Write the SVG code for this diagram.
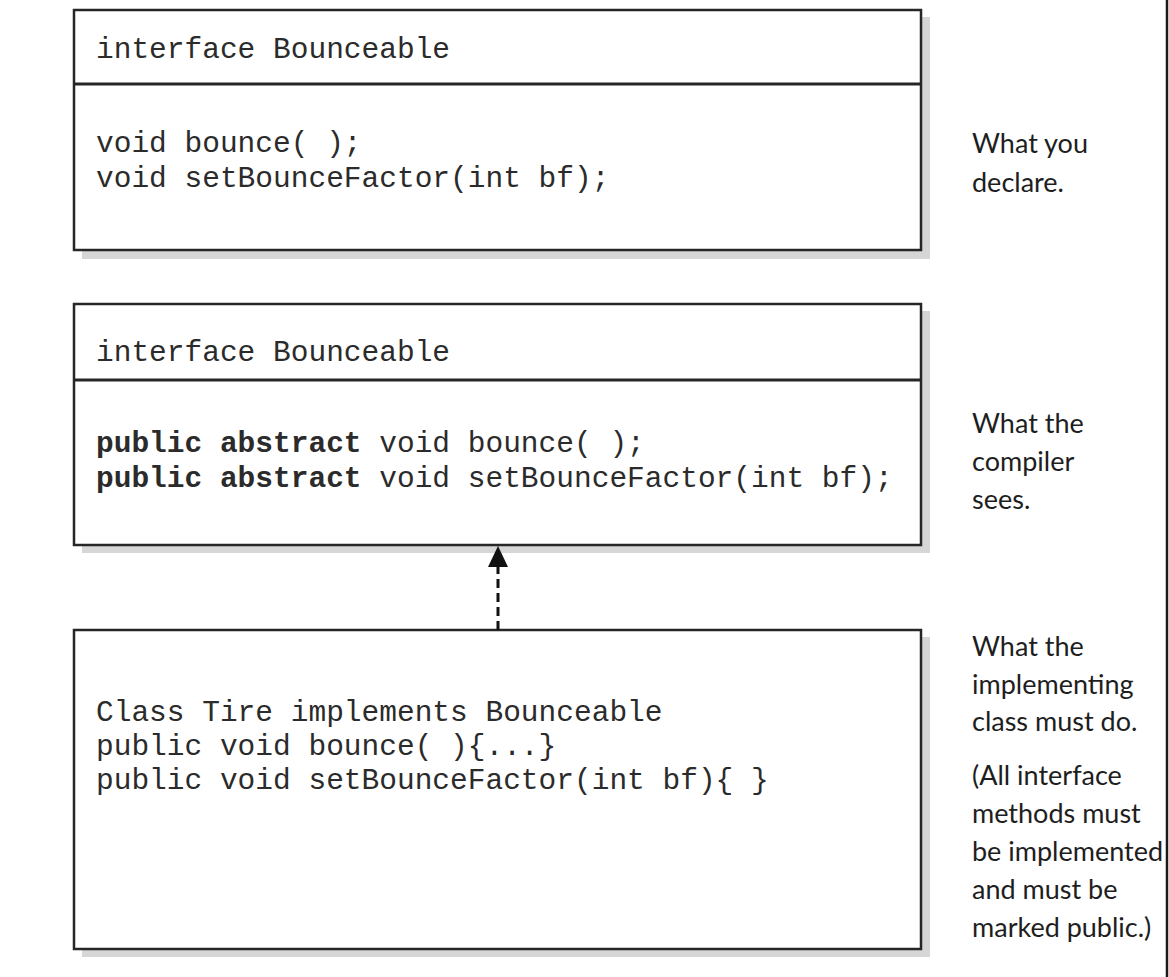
<svg xmlns="http://www.w3.org/2000/svg" width="1169" height="977" viewBox="0 0 1169 977">
<style>
.box{fill:#fff;stroke:#262626;stroke-width:2.5}
.shadow{fill:#d6d6d6}
.div{stroke:#262626;stroke-width:3}
.code{font-family:"Liberation Mono","DejaVu Sans Mono",monospace;font-size:29.5px;fill:#2b2b2b}
.kw{font-weight:bold}
.note{font-family:Lato,"Open Sans",sans-serif;font-size:27px;fill:#1e1e1e}
</style>
<rect width="1169" height="977" fill="#fff"/>
<line x1="1167" y1="0" x2="1167" y2="977" stroke="#1a1a1a" stroke-width="2.5"/>
<g id="declared">
<rect class="shadow" x="82" y="17" width="848" height="242"/>
<rect class="box" x="74" y="10" width="847" height="240"/>
<line class="div" x1="74" y1="84" x2="921" y2="84"/>
<text class="code" x="96" y="58">interface Bounceable</text>
<text class="code" x="96" y="152">void bounce( );</text>
<text class="code" x="96" y="187">void setBounceFactor(int bf);</text>
</g>
<g id="compiler">
<rect class="shadow" x="82" y="311" width="848" height="242"/>
<rect class="box" x="74" y="304" width="847" height="241"/>
<line class="div" x1="74" y1="380" x2="921" y2="380"/>
<text class="code" x="96" y="361">interface Bounceable</text>
<text class="code" x="96" y="452"><tspan class="kw">public abstract</tspan> void bounce( );</text>
<text class="code" x="96" y="487"><tspan class="kw">public abstract</tspan> void setBounceFactor(int bf);</text>
</g>
<g id="tire">
<rect class="shadow" x="82" y="637" width="848" height="320"/>
<rect class="box" x="74" y="630" width="847" height="319"/>
<text class="code" x="96" y="721">Class Tire implements Bounceable</text>
<text class="code" x="96" y="755">public void bounce( ){...}</text>
<text class="code" x="96" y="789">public void setBounceFactor(int bf){ }</text>
</g>
<g id="connectors">
<line x1="498" y1="630" x2="498" y2="566" stroke="#111" stroke-width="3" stroke-dasharray="9,5"/>
<polygon points="488,567 498,546 508,567" fill="#111"/>
</g>
<g id="labels">
<text class="note" x="972" y="153">What you</text>
<text class="note" x="972" y="192">declare.</text>
<text class="note" x="972" y="433">What the</text>
<text class="note" x="972" y="471">compiler</text>
<text class="note" x="972" y="509">sees.</text>
<text class="note" x="972" y="656">What the</text>
<text class="note" x="972" y="694">implementing</text>
<text class="note" x="972" y="731">class must do.</text>
<text class="note" x="972" y="785">(All interface</text>
<text class="note" x="972" y="823">methods must</text>
<text class="note" x="972" y="861">be implemented</text>
<text class="note" x="972" y="899">and must be</text>
<text class="note" x="972" y="937">marked public.)</text>
</g>
</svg>
